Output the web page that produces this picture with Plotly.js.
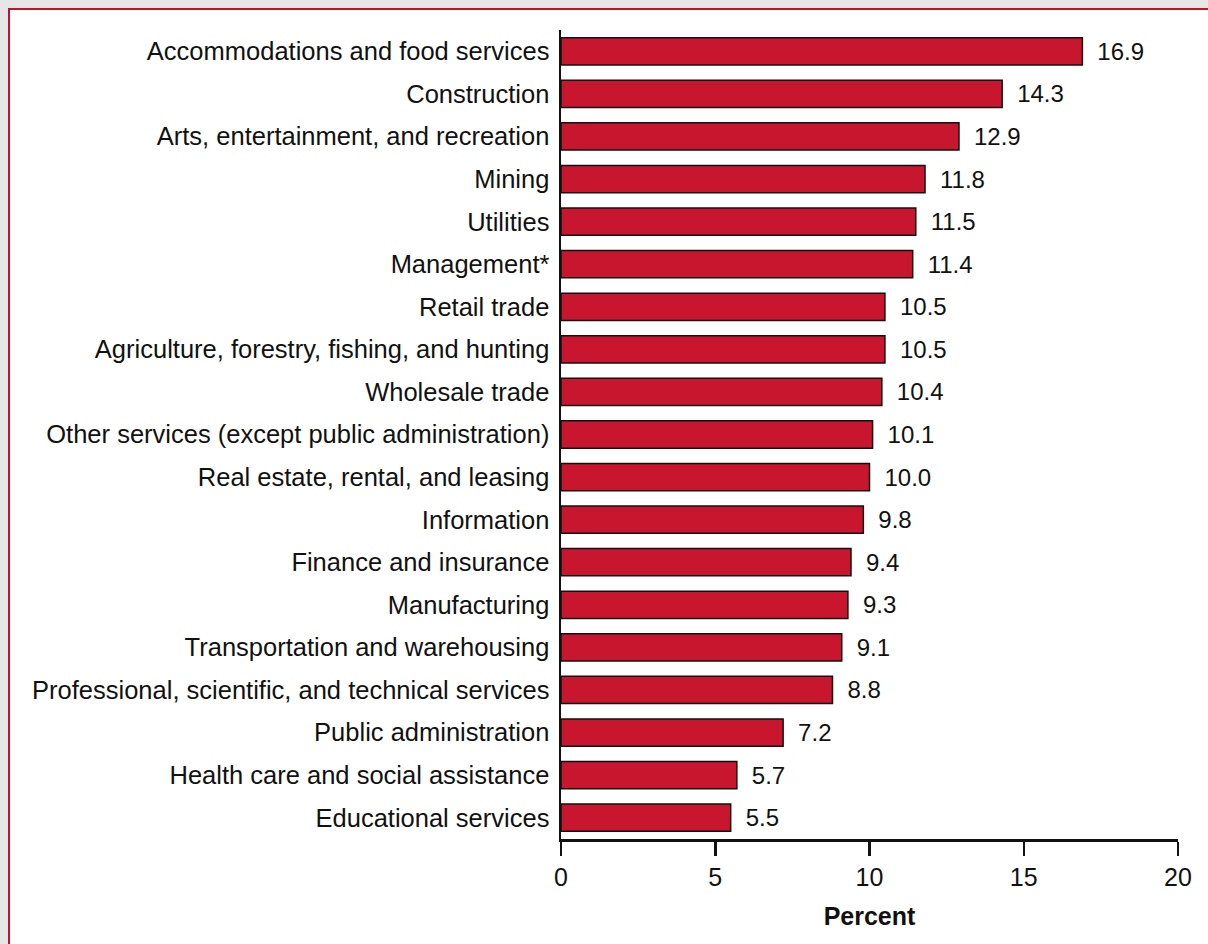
<!DOCTYPE html>
<html>
<head>
<meta charset="utf-8">
<script src="https://cdn.plot.ly/plotly-3.0.1.min.js"></script>
<style>
  html, body { margin: 0; padding: 0; }
  body { width: 1208px; height: 944px; overflow: hidden; background: #e6e6e6; position: relative; }
  #panel { position: absolute; left: 8px; top: 8px; width: 1300px; height: 1000px; background: #ffffff; border-left: 2px solid #c8102e; border-top: 2px solid #c8102e; }
  #chart { position: absolute; left: 0; top: 0; width: 1208px; height: 944px; }
</style>
</head>
<body>
<div id="panel"></div>
<div id="chart"></div>
<script>
const categories = [
  "Accommodations and food services",
  "Construction",
  "Arts, entertainment, and recreation",
  "Mining",
  "Utilities",
  "Management*",
  "Retail trade",
  "Agriculture, forestry, fishing, and hunting",
  "Wholesale trade",
  "Other services (except public administration)",
  "Real estate, rental, and leasing",
  "Information",
  "Finance and insurance",
  "Manufacturing",
  "Transportation and warehousing",
  "Professional, scientific, and technical services",
  "Public administration",
  "Health care and social assistance",
  "Educational services"
];
const percentValues = [16.9, 14.3, 12.9, 11.8, 11.5, 11.4, 10.5, 10.5, 10.4, 10.1, 10.0, 9.8, 9.4, 9.3, 9.1, 8.8, 7.2, 5.7, 5.5];
const xTickValues = [0, 5, 10, 15, 20];
const xTickLabels = ["0", "5", "10", "15", "20"];
const xAxisTitle = "Percent";

const FONT = "'Liberation Sans', Arial, sans-serif";

const trace = {
  type: "bar",
  orientation: "h",
  x: percentValues,
  y: categories,
  width: 0.64,
  marker: { color: "#c8162f", line: { color: "#111111", width: 1.5 } },
  text: percentValues.map(v => "\u2002" + v.toFixed(1)),
  textposition: "outside",
  constraintext: "none",
  textfont: { family: FONT, size: 24, color: "#111111" },
  cliponaxis: false,
  hoverinfo: "skip"
};

const layout = {
  width: 1208,
  height: 944,
  margin: { l: 561, r: 30, t: 30, b: 105, pad: 0 },
  paper_bgcolor: "rgba(0,0,0,0)",
  plot_bgcolor: "rgba(0,0,0,0)",
  showlegend: false,
  font: { family: FONT, size: 25, color: "#111111" },
  xaxis: {
    range: [0, 20],
    tickvals: xTickValues,
    ticktext: xTickLabels,
    showgrid: false,
    zeroline: false,
    showline: true,
    linecolor: "#111111",
    linewidth: 2.5,
    ticks: "outside",
    ticklen: 14,
    tickwidth: 2.5,
    tickcolor: "#111111",
    tickfont: { family: FONT, size: 25, color: "#111111" },
    title: { text: "<b>" + xAxisTitle + "</b>", font: { family: FONT, size: 25, color: "#111111" }, standoff: 18 },
    fixedrange: true
  },
  yaxis: {
    type: "category",
    categoryorder: "array",
    categoryarray: categories,
    range: [categories.length - 0.5, -0.5],
    showgrid: false,
    zeroline: false,
    showline: true,
    linecolor: "#111111",
    linewidth: 2.5,
    ticks: "",
    ticklabelstandoff: 4,
    tickfont: { family: FONT, size: 25.5, color: "#111111" },
    fixedrange: true
  }
};

Plotly.newPlot("chart", [trace], layout, { displayModeBar: false, staticPlot: true });
</script>
</body>
</html>
